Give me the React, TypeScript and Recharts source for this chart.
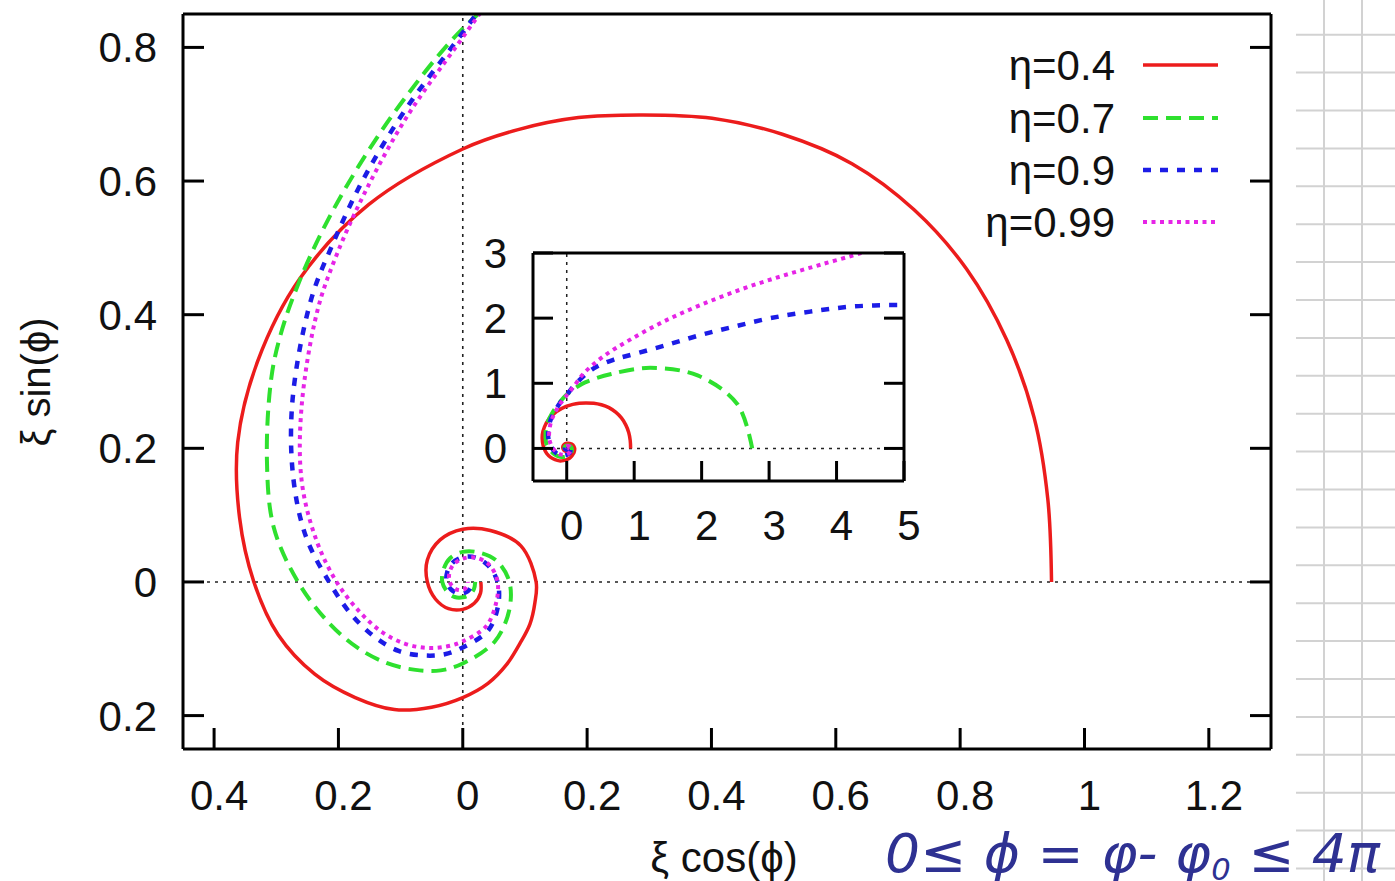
import React from "react";
import {
    ComposedChart, Line, XAxis, YAxis, ReferenceLine, CartesianGrid,
} from "recharts";

// ─── Data ─────────────────────────────────────────────────────────────────────

// [ξ cos(ϕ), ξ sin(ϕ)] along each spiral, ϕ running 0 → 4π
const eta04: [number, number][] = [
    [0.947, 0], [0.941, 0.124], [0.919, 0.246], [0.875, 0.362], [0.8106, 0.468],
    [0.726, 0.557], [0.626, 0.626], [0.514, 0.67], [0.401, 0.694], [0.29, 0.699],
    [0.186, 0.695], [0.089, 0.677], [0, 0.648], [-0.151, 0.565], [-0.262, 0.454],
    [-0.33, 0.33], [-0.362, 0.209], [-0.359, 0.096], [-0.336, 0], [-0.297, -0.079],
    [-0.238, -0.138], [-0.173, -0.173], [-0.11, -0.191], [-0.0502, -0.1874], [0, -0.173],
    [0.0406, -0.1517], [0.071, -0.123], [0.092, -0.092], [0.108, -0.063], [0.116, -0.031],
    [0.118, 0], [0.0935, 0.054], [0.0445, 0.077], [0, 0.079], [-0.0365, 0.063],
    [-0.057, 0.033], [-0.057, 0], [-0.044, -0.0255], [-0.023, -0.04], [0, -0.041],
    [0.0185, -0.032], [0.0286, -0.0165], [0.029, 0],
];

const eta07: [number, number][] = [
    [2.75, 0], [2.531, 0.678], [1.94, 1.12], [1.237, 1.237], [0.66, 1.143], [0.272, 1.014],
    [0.1214, 0.922], [0, 0.828], [-0.095, 0.7217], [-0.167, 0.623], [-0.2212, 0.534],
    [-0.2615, 0.453], [-0.2904, 0.3785], [-0.3076, 0.3076], [-0.315, 0.182],
    [-0.304, 0.0815], [-0.265, 0], [-0.218, -0.0585], [-0.17, -0.098], [-0.1216, -0.1216],
    [-0.076, -0.1316], [-0.0355, -0.1323], [0, -0.122], [0.0515, -0.089], [0.0745, -0.043],
    [0.075, 0], [0.0546, 0.0315], [0.0255, 0.0442], [0, 0.045], [-0.0205, 0.0355],
    [-0.0312, 0.018], [-0.033, 0], [-0.0251, -0.0145], [-0.013, -0.0225], [0, -0.023],
    [0.011, -0.019], [0.018, -0.0105], [0.02, 0],
];

const eta09: [number, number][] = [
    [5.4, 2.18], [5.0, 2.2], [4.26, 2.18], [3.61, 2.1], [3.02, 2.0], [2.48, 1.87],
    [1.98, 1.74], [1.49, 1.59], [1.04, 1.46], [0.69, 1.36], [0.4, 1.23], [0.15, 1.01],
    [0, 0.822], [-0.0929, 0.706], [-0.161, 0.601], [-0.2093, 0.5054], [-0.244, 0.4226],
    [-0.2737, 0.2737], [-0.2728, 0.1575], [-0.2521, 0.0675], [-0.215, 0],
    [-0.1797, -0.0481], [-0.142, -0.082], [-0.1032, -0.1032], [-0.0635, -0.11],
    [-0.029, -0.1082], [0, -0.098], [0.0415, -0.0719], [0.0572, -0.033], [0.056, 0],
    [0.0416, 0.024], [0.021, 0.0364], [0, 0.037], [-0.0165, 0.0286], [-0.0251, 0.0145],
    [-0.026, 0], [-0.019, -0.011], [-0.0095, -0.0165], [0, -0.017], [0.008, -0.0139],
    [0.013, -0.0075], [0.015, 0],
];

const eta099: [number, number][] = [
    [4.6, 3.1], [4.36, 3.0], [3.76, 2.82], [3.17, 2.64], [2.58, 2.44], [1.98, 2.2],
    [1.44, 1.95], [0.94, 1.67], [0.54, 1.41], [0.25, 1.15], [0.1, 0.945], [0, 0.815],
    [-0.0914, 0.694], [-0.1566, 0.5844], [-0.2028, 0.4897], [-0.234, 0.4053],
    [-0.2595, 0.2595], [-0.2589, 0.1495], [-0.2357, 0.0631], [-0.203, 0], [-0.1661, -0.0445],
    [-0.1299, -0.075], [-0.0926, -0.0926], [-0.057, -0.0987], [-0.0259, -0.0966], [0, -0.089],
    [0.038, -0.0658], [0.0537, -0.031], [0.056, 0], [0.0433, 0.025], [0.021, 0.0364],
    [0, 0.035], [-0.015, 0.026], [-0.0217, 0.0125], [-0.021, 0], [-0.0147, -0.0085],
    [-0.007, -0.0121], [0, -0.012], [0.005, -0.0087], [0.0078, -0.0045], [0.008, 0],
];

const mainXTicks = [-0.4, -0.2, 0, 0.2, 0.4, 0.6, 0.8, 1, 1.2];
const mainYTicks = [-0.2, 0, 0.2, 0.4, 0.6, 0.8];
const insetXTicks = [0, 1, 2, 3, 4, 5];
const insetYTicks = [0, 1, 2, 3];

const toRows = (pts: [number, number][]) => pts.map(([x, y]) => ({ x, y }));

const SERIES = [
    { name: "η=0.4", data: toRows(eta04), color: "#ec1c1c", width: 3.5, dash: undefined },
    { name: "η=0.7", data: toRows(eta07), color: "#2ee02e", width: 4, dash: "15 8" },
    { name: "η=0.9", data: toRows(eta09), color: "#1c1ce6", width: 4.5, dash: "8 9" },
    { name: "η=0.99", data: toRows(eta099), color: "#e624e6", width: 4, dash: "4 4.5" },
];

// ─── Helpers ─────────────────────────────────────────────────────────────────

const FONT = "'Liberation Sans', Arial, Helvetica, sans-serif";
const fmt = (v: number) => String(Math.abs(Math.round(v * 10) / 10));
const AX = { stroke: "#000", strokeWidth: 3 };

// centripetal Catmull-Rom (spirals are not functions of x)
function catmullRom(context: any) {
    let pts: [number, number][] = [];
    const d = (a: number[], b: number[]) => Math.sqrt(Math.hypot(b[0] - a[0], b[1] - a[1]));
    return {
        areaStart() {},
        areaEnd() {},
        lineStart() { pts = []; },
        point(x: number, y: number) { pts.push([+x, +y]); },
        lineEnd() {
            if (!pts.length) return;
            context.moveTo(pts[0][0], pts[0][1]);
            for (let i = 0; i < pts.length - 1; i++) {
                const p0 = pts[i - 1], p1 = pts[i], p2 = pts[i + 1], p3 = pts[i + 2];
                const l12 = d(p1, p2);
                let c1 = [p1[0], p1[1]], c2 = [p2[0], p2[1]];
                if (p0) {
                    const l01 = d(p0, p1);
                    if (l01 > 1e-9) {
                        const a = 2 * l01 * l01 + 3 * l01 * l12 + l12 * l12;
                        const n = 3 * l01 * (l01 + l12);
                        c1 = [0, 1].map((k) => (p1[k] * a - p0[k] * l12 * l12 + p2[k] * l01 * l01) / n);
                    }
                }
                if (p3) {
                    const l23 = d(p2, p3);
                    if (l23 > 1e-9) {
                        const b = 2 * l23 * l23 + 3 * l23 * l12 + l12 * l12;
                        const m = 3 * l23 * (l23 + l12);
                        c2 = [0, 1].map((k) => (p2[k] * b + p1[k] * l23 * l23 - p3[k] * l12 * l12) / m);
                    }
                }
                context.bezierCurveTo(c1[0], c1[1], c2[0], c2[1], p2[0], p2[1]);
            }
        },
    };
}

function XTickLabel({ x, y, payload }: any) {
    return (
        <text x={x + 5} y={y} textAnchor="middle" fontSize={42} fontFamily={FONT} fill="#111">
            {fmt(payload.value)}
        </text>
    );
}

function YTickLabel({ x, y, payload }: any) {
    return (
        <text x={x} y={y + 15} textAnchor="end" fontSize={42} fontFamily={FONT} fill="#111">
            {fmt(payload.value)}
        </text>
    );
}

// mirrored axes: tick marks only
const NoLabel = () => null;

function seriesLines() {
    return SERIES.map((s) => (
        <Line
            key={s.name}
            data={s.data}
            dataKey="y"
            type={catmullRom as any}
            stroke={s.color}
            strokeWidth={s.width}
            strokeDasharray={s.dash}
            dot={false}
            activeDot={false}
            isAnimationActive={false}
        />
    ));
}

// ─── Charts ──────────────────────────────────────────────────────────────────

function MainChart() {
    return (
        <ComposedChart width={1395} height={881}
            margin={{ top: 13, right: 123, left: 103, bottom: 72 }}>
            <XAxis dataKey="x" type="number" domain={[-0.45, 1.3]} ticks={mainXTicks}
                allowDataOverflow interval={0} height={60} axisLine={AX} tickLine={AX}
                tickSize={-21} tickMargin={82} tick={<XTickLabel />} />
            <XAxis xAxisId="top" orientation="top" type="number" domain={[-0.45, 1.3]}
                ticks={mainXTicks} allowDataOverflow interval={0} height={1}
                axisLine={AX} tickLine={AX} tickSize={-21} tick={<NoLabel />} />
            <YAxis type="number" domain={[-0.25, 0.85]} ticks={mainYTicks} allowDataOverflow
                interval={0} width={80} axisLine={AX} tickLine={AX} tickSize={-21}
                tickMargin={47} tick={<YTickLabel />} />
            <YAxis yAxisId="right" orientation="right" type="number" domain={[-0.25, 0.85]}
                ticks={mainYTicks} allowDataOverflow interval={0} width={1}
                axisLine={AX} tickLine={AX} tickSize={-21} tick={<NoLabel />} />
            <ReferenceLine x={0} stroke="#222" strokeWidth={1.6} strokeDasharray="3 5" />
            <ReferenceLine y={0} stroke="#222" strokeWidth={1.6} strokeDasharray="3 5" />
            {seriesLines()}
        </ComposedChart>
    );
}

function InsetChart() {
    return (
        <ComposedChart width={500} height={340}
            margin={{ top: 32, right: 35, left: 33, bottom: 19 }}>
            <CartesianGrid horizontal={false} vertical={false} fill="#fff" />
            <XAxis dataKey="x" type="number" domain={[-0.5, 5]} ticks={insetXTicks}
                allowDataOverflow interval={0} height={60} axisLine={AX} tickLine={AX}
                tickSize={-20} tickMargin={79} tick={<XTickLabel />} />
            <XAxis xAxisId="top" orientation="top" type="number" domain={[-0.5, 5]}
                ticks={insetXTicks} allowDataOverflow interval={0} height={1}
                axisLine={AX} tickLine={AX} tickSize={-20} tick={<NoLabel />} />
            <YAxis type="number" domain={[-0.5, 3]} ticks={insetYTicks} allowDataOverflow
                interval={0} width={60} axisLine={AX} tickLine={AX} tickSize={-20}
                tickMargin={46} tick={<YTickLabel />} />
            <YAxis yAxisId="right" orientation="right" type="number" domain={[-0.5, 3]}
                ticks={insetYTicks} allowDataOverflow interval={0} width={1}
                axisLine={AX} tickLine={AX} tickSize={-20} tick={<NoLabel />} />
            <ReferenceLine x={0} stroke="#222" strokeWidth={1.5} strokeDasharray="3 5" />
            <ReferenceLine y={0} stroke="#222" strokeWidth={1.5} strokeDasharray="3 5" />
            {seriesLines()}
        </ComposedChart>
    );
}

// ─── Legend, titles, notebook paper ──────────────────────────────────────────

function Overlay() {
    const rows = [65, 118, 170, 222];
    const gridY = Array.from({ length: 23 }, (_, k) => 34.7 + 37.9 * k);
    return (
        <svg width={1395} height={881} style={{ position: "absolute", left: 0, top: 0, pointerEvents: "none" }}>
            {/* squared paper at the right edge */}
            {gridY.map((gy) => (
                <line key={gy} x1={1296} x2={1395} y1={gy} y2={gy} stroke="#d2d2d2" strokeWidth={2} />
            ))}
            <line x1={1324} x2={1324} y1={0} y2={881} stroke="#d2d2d2" strokeWidth={2} />
            <line x1={1362} x2={1362} y1={0} y2={881} stroke="#d2d2d2" strokeWidth={2} />

            {/* legend */}
            {SERIES.map((s, i) => (
                <g key={s.name}>
                    <text x={1115} y={rows[i] + 15} textAnchor="end" fontSize={42}
                        fontFamily={FONT} fill="#111">{s.name}</text>
                    <line x1={1143} x2={1218} y1={rows[i]} y2={rows[i]} stroke={s.color}
                        strokeWidth={s.width} strokeDasharray={s.dash} />
                </g>
            ))}

            {/* axis titles */}
            <text x={0} y={0} transform="translate(50 382) rotate(-90)" textAnchor="middle"
                fontSize={40} fontFamily={FONT} fill="#111">ξ sin(ϕ)</text>
            <text x={724} y={872} textAnchor="middle" fontSize={42} fontFamily={FONT}
                fill="#111">ξ cos(ϕ)</text>

            {/* handwritten note */}
            <text x={885} y={872} fontSize={54} fontFamily="'DejaVu Sans', sans-serif"
                fontStyle="italic" fill="#2e3192" textLength={495} lengthAdjust="spacingAndGlyphs">
                0≤ ϕ = φ- φ<tspan fontSize={30} dy={8}>0</tspan><tspan dy={-8}> ≤ 4π</tspan>
            </text>
        </svg>
    );
}

export default function App() {
    return (
        <div style={{ position: "absolute", left: 0, top: 0, width: 1395, height: 881, background: "#fff" }}>
            <MainChart />
            <div style={{ position: "absolute", left: 440, top: 220 }}>
                <InsetChart />
            </div>
            <Overlay />
        </div>
    );
}
